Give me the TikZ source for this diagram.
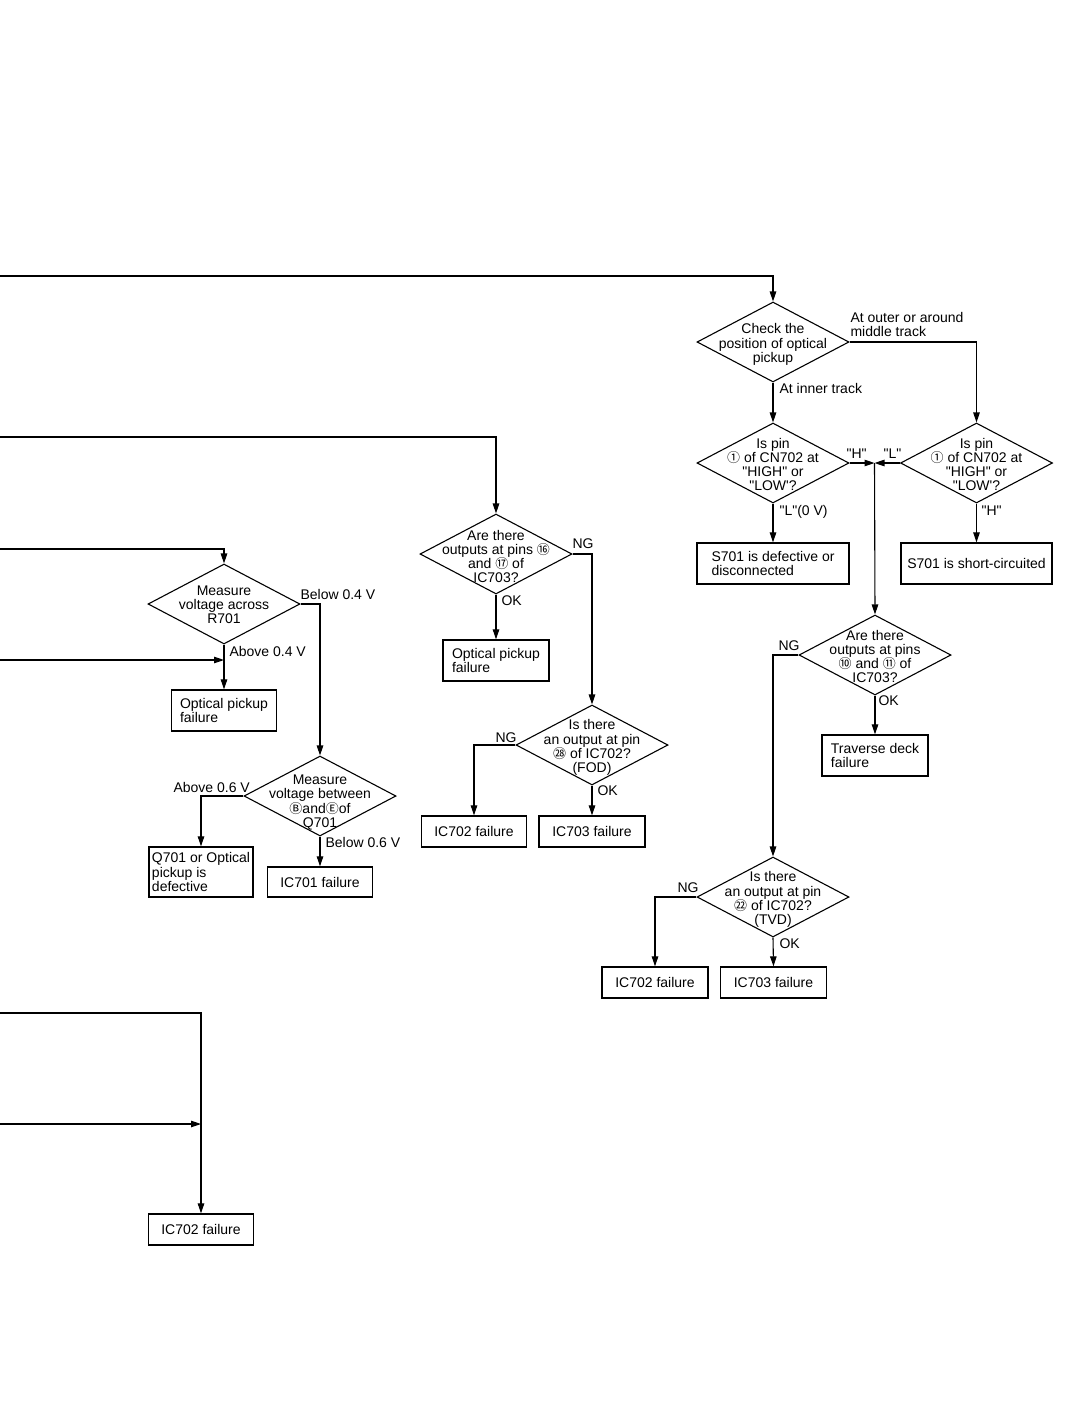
\documentclass[tikz,border=0pt]{standalone}
\usepackage{fontspec}
\setmainfont{Liberation Sans}[Ligatures=TeXOff]
\newfontfamily\cjk{Noto Sans CJK JP}
\usetikzlibrary{shapes.geometric,arrows.meta}
\newcommand\fs{\fontsize{14}{14.2}\selectfont}
\newcommand\cc[1]{{\cjk\fontsize{13}{13}\selectfont #1}}
\begin{document}
\begin{tikzpicture}[x=1pt,y=-1pt,
  line width=1.1pt,
  >={Triangle[length=10pt,width=6.5pt]},
  arr/.style={->},
  dia/.style={shape=diamond,draw,line width=1.1pt,minimum width=152pt,minimum height=80pt,inner sep=0pt},
  dtext/.style={align=center,inner sep=0pt,font=\fs,yshift=-2.5pt},
  box/.style={draw,line width=1.3pt,inner sep=0pt,align=left,font=\fs},
  lab/.style={anchor=north west,inner sep=0pt,align=left,font=\fs}]
\fill[white] (0,0) rectangle (1078,1424);
\useasboundingbox (0,0) rectangle (1078,1424);

% free ends at the left edge
\coordinate (s1) at (0,276);
\coordinate (s2) at (0,437);
\coordinate (s3) at (0,549);
\coordinate (s4) at (0,660);
\coordinate (s5) at (0,1013);
\coordinate (s6) at (0,1124);

% diamonds
\node[dia] (d1) at (773,342) {};
\node[dtext] (d1t) at (d1) {Check the\\position of optical\\pickup};
\node[dia] (d2) at (773,463) {};
\node[dtext,yshift=1pt] (d2t) at (d2) {Is pin\\\cc{①} of CN702 at\\"HIGH" or\\"LOW'?};
\node[dia] (d3) at (976.5,463) {};
\node[dtext,yshift=1pt] (d3t) at (d3) {Is pin\\\cc{①} of CN702 at\\"HIGH" or\\"LOW'?};
\node[dia] (d4) at (875,655) {};
\node[dtext,yshift=1pt] (d4t) at (d4) {Are there\\outputs at pins\\\cc{⑩} and \cc{⑪} of\\IC703?};
\node[dia] (d5) at (496,554) {};
\node[dtext] (d5t) at (d5) {Are there\\outputs at pins \cc{⑯}\\and \cc{⑰} of\\IC703?};
\node[dia] (d6) at (773,897) {};
\node[dtext] (d6t) at (d6) {Is there\\an output at pin\\\cc{㉒} of IC702?\\(TVD)};
\node[dia] (d7) at (592,745) {};
\node[dtext] (d7t) at (d7) {Is there\\an output at pin\\\cc{㉘} of IC702?\\(FOD)};
\node[dia] (d8) at (224,604) {};
\node[dtext,yshift=2pt] (d8t) at (d8) {Measure\\voltage across\\R701};
\node[dia] (d9) at (320,796) {};
\node[dtext,yshift=-4pt] (d9t) at (d9) {Measure\\voltage between\\\cc{Ⓑ}and\cc{Ⓔ}of\\Q701};

% boxes
\node[box,minimum width=152pt,minimum height=41pt] (b1) at (773,563.5) {S701 is defective or\\disconnected};
\node[box,minimum width=151pt,minimum height=41pt] (b2) at (976.5,563.5) {S701 is short-circuited};
\node[box,minimum width=106pt,minimum height=41pt] (b3) at (875,755.5) {Traverse deck\\failure};
\node[box,minimum width=106pt,minimum height=31pt] (b4) at (655,982.5) {IC702 failure};
\node[box,minimum width=106pt,minimum height=31pt] (b5) at (773.5,982.5) {IC703 failure};
\node[box,minimum width=106pt,minimum height=41pt] (b6) at (496,660.5) {Optical pickup\\failure};
\node[box,minimum width=105pt,minimum height=31pt] (b7) at (474,831.5) {IC702 failure};
\node[box,minimum width=106pt,minimum height=31pt] (b8) at (592,831.5) {IC703 failure};
\node[box,minimum width=105pt,minimum height=41pt] (b9) at (224,710.5) {Optical pickup\\failure};
\node[box,minimum width=104pt,minimum height=50pt] (b10) at (201,872) {Q701 or Optical\\pickup is\\defective};
\node[box,minimum width=105pt,minimum height=30pt] (b11) at (320,882) {IC701 failure};
\node[box,minimum width=105pt,minimum height=31pt] (b12) at (201,1229.5) {IC702 failure};

% connectors
\coordinate (j) at (874.5,463);
\draw[arr] (s1) -| (d1.north);
\draw[arr] (d1.east) -| (d3.north);
\draw[arr] (d1.south) -- (d2.north);
\draw[arr] (d2.east) -- (j);
\draw[arr] (d3.west) -- (j);
\draw[arr] (j) -- (d4.north);
\draw[arr] (d2.south) -- (b1.north);
\draw[arr] (d3.south) -- (b2.north);
\draw[arr] (d4.west) -| (d6.north);
\draw[arr] (d4.south) -- (b3.north);
\draw[arr] (d6.west) -| (b4.north);
\draw[arr] (d6.south) -- (b5.north);

\draw[arr] (s2) -| (d5.north);
\draw[arr] (d5.east) -| (d7.north);
\draw[arr] (d5.south) -- (b6.north);
\draw[arr] (d7.west) -| (b7.north);
\draw[arr] (d7.south) -- (b8.north);

\draw[arr] (s3) -| (d8.north);
\draw[arr] (d8.east) -| (d9.north);
\draw[arr] (d8.south) -- (b9.north);
\coordinate (m1) at (d8.south |- s4);
\draw[arr] (s4) -- (m1);
\draw[arr] (d9.west) -| (b10.north);
\draw[arr] (d9.south) -- (b11.north);

\draw[arr] (s5) -| (b12.north);
\coordinate (m2) at (b12.north |- s6);
\draw[arr] (s6) -- (m2);

% labels
\node[lab] (l1) at (850,312) {At outer or around\\middle track};
\node[lab] (l2) at (779,383) {At inner track};
\node[lab] (l3) at (846,448) {"H"};
\node[lab] (l4) at (883,448) {"L"};
\node[lab] (l5) at (779,505) {"L"(0 V)};
\node[lab] (l6) at (981,505) {"H"};
\node[lab] (l7) at (572,538) {NG};
\node[lab] (l8) at (501,595) {OK};
\node[lab] (l9) at (300,589) {Below 0.4 V};
\node[lab] (l10) at (229,646) {Above 0.4 V};
\node[lab] (l11) at (173,782) {Above 0.6 V};
\node[lab] (l12) at (325,837) {Below 0.6 V};
\node[lab] (l13) at (495,732) {NG};
\node[lab] (l14) at (597,785) {OK};
\node[lab] (l15) at (778,640) {NG};
\node[lab] (l16) at (878,695) {OK};
\node[lab] (l17) at (677,882) {NG};
\node[lab] (l18) at (779,938) {OK};
\end{tikzpicture}
\end{document}
